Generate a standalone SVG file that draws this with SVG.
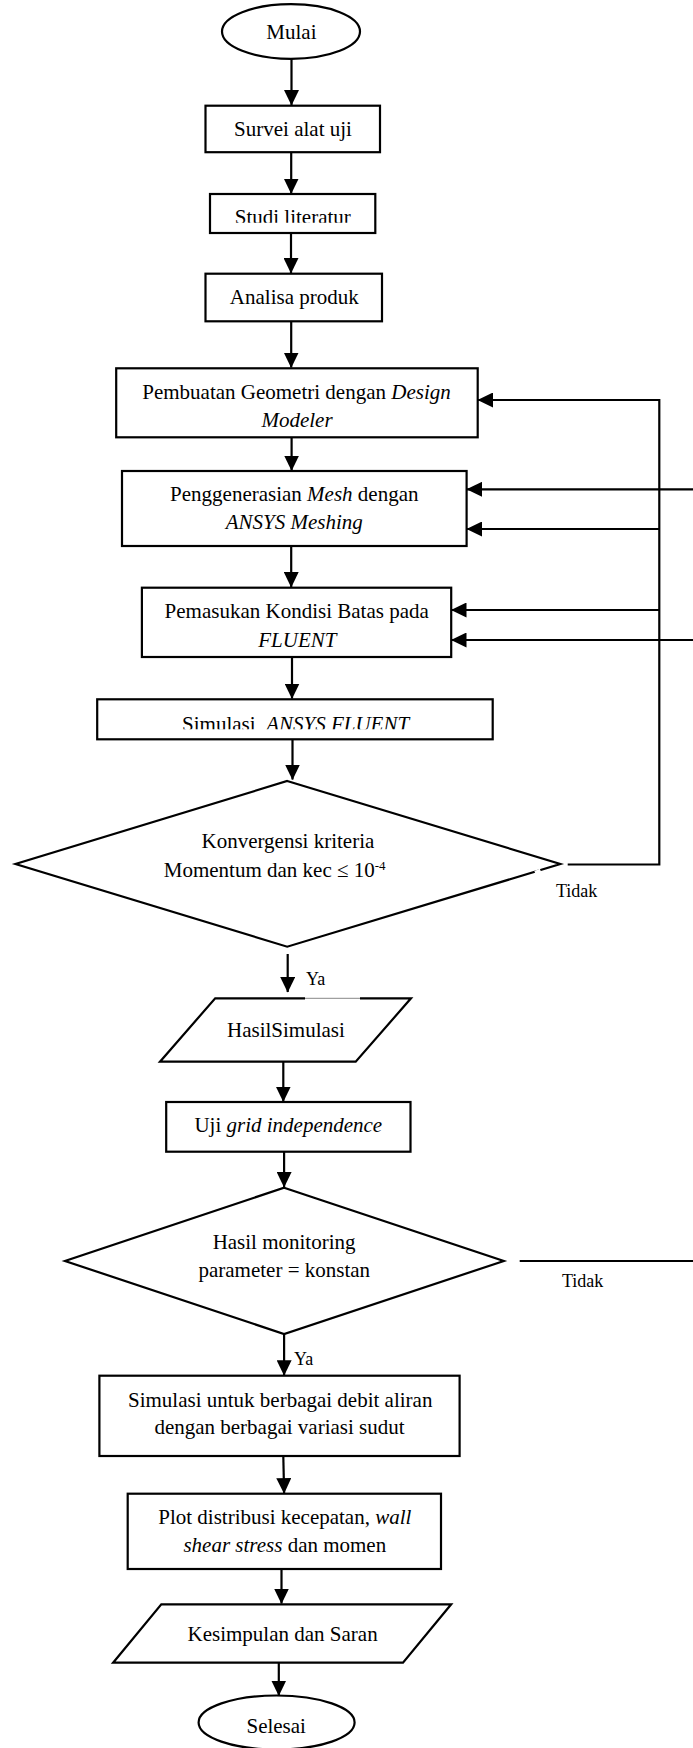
<svg xmlns="http://www.w3.org/2000/svg" width="693" height="1748" viewBox="0 0 693 1748">
<style>
.shape{fill:#fff;stroke:#000;stroke-width:2.2}
.ln{fill:none;stroke:#000;stroke-width:2.2}
text{font-family:"Liberation Serif","Times New Roman",serif;font-size:21px;fill:#000}
.c{text-anchor:middle}
.lbl{font-size:18px}
.i{font-style:italic}
</style>
<defs>
<marker id="ah" markerUnits="userSpaceOnUse" markerWidth="16" markerHeight="15" viewBox="0 0 16 15" refX="15" refY="7.5" orient="auto">
<path d="M0,0 L15.5,7.5 L0,15 z" fill="#000"/>
</marker>
<clipPath id="clipStudi"><rect x="200" y="190" width="190" height="32.8"/></clipPath>
<clipPath id="clipSim"><rect x="90" y="695" width="410" height="34.3"/></clipPath>
</defs>
<rect width="693" height="1748" fill="#fff"/>

<g id="connectors">
<line class="ln" x1="291.5" y1="59" x2="291.5" y2="105" marker-end="url(#ah)"/>
<line class="ln" x1="291.2" y1="152" x2="291.2" y2="193.5" marker-end="url(#ah)"/>
<line class="ln" x1="291" y1="233" x2="291" y2="273" marker-end="url(#ah)"/>
<line class="ln" x1="291.2" y1="321" x2="291.2" y2="367.5" marker-end="url(#ah)"/>
<line class="ln" x1="291.6" y1="437" x2="291.6" y2="470.5" marker-end="url(#ah)"/>
<line class="ln" x1="291.2" y1="546" x2="291.2" y2="587" marker-end="url(#ah)"/>
<line class="ln" x1="292" y1="657" x2="292" y2="698.5" marker-end="url(#ah)"/>
<line class="ln" x1="292.5" y1="739" x2="292.5" y2="779.5" marker-end="url(#ah)"/>
<line class="ln" x1="287.7" y1="954" x2="287.7" y2="992" marker-end="url(#ah)"/>
<line class="ln" x1="283.3" y1="1061.7" x2="283.3" y2="1101.5" marker-end="url(#ah)"/>
<line class="ln" x1="284.1" y1="1151.7" x2="284.1" y2="1187" marker-end="url(#ah)"/>
<line class="ln" x1="284.1" y1="1334" x2="284.1" y2="1375.2" marker-end="url(#ah)"/>
<line class="ln" x1="283.3" y1="1456" x2="284.1" y2="1493.2" marker-end="url(#ah)"/>
<line class="ln" x1="281.5" y1="1569" x2="281.5" y2="1603.5" marker-end="url(#ah)"/>
<line class="ln" x1="278.8" y1="1662.7" x2="278.8" y2="1695.5" marker-end="url(#ah)"/>
<polyline class="ln" points="567.7,864.5 659.3,864.5 659.3,400 478,400" marker-end="url(#ah)"/>
<line class="ln" x1="693" y1="489.3" x2="467" y2="489.3" marker-end="url(#ah)"/>
<line class="ln" x1="659.3" y1="529" x2="467" y2="529" marker-end="url(#ah)"/>
<line class="ln" x1="659.3" y1="610" x2="451.5" y2="610" marker-end="url(#ah)"/>
<line class="ln" x1="693" y1="640" x2="451.5" y2="640" marker-end="url(#ah)"/>
<line class="ln" x1="519.7" y1="1261" x2="693" y2="1261"/>
<text class="lbl" x="556" y="896.7">Tidak</text>
<text class="lbl" x="562" y="1287.3">Tidak</text>
<text class="lbl" x="306" y="985">Ya</text>
<text class="lbl" x="294" y="1365">Ya</text>
</g>

<g id="mulai">
<ellipse class="shape" cx="291" cy="31.5" rx="69" ry="27.3"/>
<text class="c" x="291.4" y="38.5">Mulai</text>
</g>

<g id="survei">
<rect class="shape" x="205.5" y="105.7" width="174.5" height="46.5"/>
<text class="c" x="293" y="136">Survei alat uji</text>
</g>

<g id="studi">
<rect class="shape" x="210" y="194" width="165.3" height="39"/>
<text class="c" x="292.8" y="224" clip-path="url(#clipStudi)">Studi literatur</text>
</g>

<g id="analisa">
<rect class="shape" x="205.5" y="273.7" width="176.5" height="47.6"/>
<text class="c" x="294.3" y="304">Analisa produk</text>
</g>

<g id="pembuatan">
<rect class="shape" x="116.2" y="368.3" width="361.5" height="69"/>
<text class="c" x="296.5" y="399">Pembuatan Geometri dengan <tspan class="i">Design</tspan></text>
<text class="c i" x="297" y="426.7">Modeler</text>
</g>

<g id="penggenerasian">
<rect class="shape" x="122" y="471" width="344.6" height="75"/>
<text class="c" x="294.3" y="500.7">Penggenerasian <tspan class="i">Mesh</tspan> dengan</text>
<text class="c i" x="294.3" y="529.3">ANSYS Meshing</text>
</g>

<g id="pemasukan">
<rect class="shape" x="141.9" y="587.7" width="309.3" height="69.3"/>
<text class="c" x="296.7" y="618.3">Pemasukan Kondisi Batas pada</text>
<text class="c i" x="297.4" y="646.7">FLUENT</text>
</g>

<g id="simulasi">
<rect class="shape" x="97.2" y="699.3" width="395.5" height="40"/>
<text class="c" x="295.6" y="731" clip-path="url(#clipSim)" xml:space="preserve">Simulasi  <tspan class="i">ANSYS FLUENT</tspan></text>
</g>

<g id="konvergensi">
<polygon class="shape" points="287.2,781 560.3,864 287.2,946.7 15.5,864"/>
<line x1="535" y1="872.6" x2="540.5" y2="870.3" stroke="#fff" stroke-width="3.5"/>
<text class="c" x="287.9" y="848.3">Konvergensi kriteria</text>
<text class="c" x="274.7" y="877.3">Momentum dan kec ≤ 10<tspan font-size="13" dy="-7">-4</tspan></text>
</g>

<g id="hasilsimulasi">
<polygon points="215.2,998.3 411,998.3 355.7,1061.7 160,1061.7" fill="#fff" stroke="none"/>
<polyline class="ln" points="305,998.3 215.2,998.3 160,1061.7 355.7,1061.7 411,998.3 360,998.3"/>
<line x1="305" y1="998.3" x2="360" y2="998.3" stroke="#888" stroke-width="1"/>
<text class="c" x="285.9" y="1037.3">HasilSimulasi</text>
</g>

<g id="uji">
<rect class="shape" x="166.2" y="1102" width="244.3" height="49.7"/>
<text class="c" x="288.3" y="1131.7">Uji <tspan class="i">grid independence</tspan></text>
</g>

<g id="monitoring">
<polygon class="shape" points="284.1,1187.7 503.8,1261 284.1,1334 65,1261"/>
<text class="c" x="284.1" y="1249.3">Hasil monitoring</text>
<text class="c" x="284.3" y="1276.7">parameter = konstan</text>
</g>

<g id="simulasi-variasi">
<rect class="shape" x="99.4" y="1375.7" width="360.2" height="80.3"/>
<text class="c" x="280.2" y="1406.7">Simulasi untuk berbagai debit aliran</text>
<text class="c" x="279.5" y="1434">dengan berbagai variasi sudut</text>
</g>

<g id="plot">
<rect class="shape" x="127.7" y="1493.7" width="313.3" height="75.3"/>
<text class="c" x="284.8" y="1524">Plot distribusi kecepatan, <tspan class="i">wall</tspan></text>
<text class="c" x="284.8" y="1551.7"><tspan class="i">shear stress</tspan> dan momen</text>
</g>

<g id="kesimpulan">
<polygon class="shape" points="161.3,1604.3 451.2,1604.3 403,1662.7 113.1,1662.7"/>
<text class="c" x="282.6" y="1640.7">Kesimpulan dan Saran</text>
</g>

<g id="selesai">
<ellipse class="shape" cx="276.6" cy="1722.5" rx="78" ry="27"/>
<text class="c" x="276.2" y="1733">Selesai</text>
</g>
</svg>
